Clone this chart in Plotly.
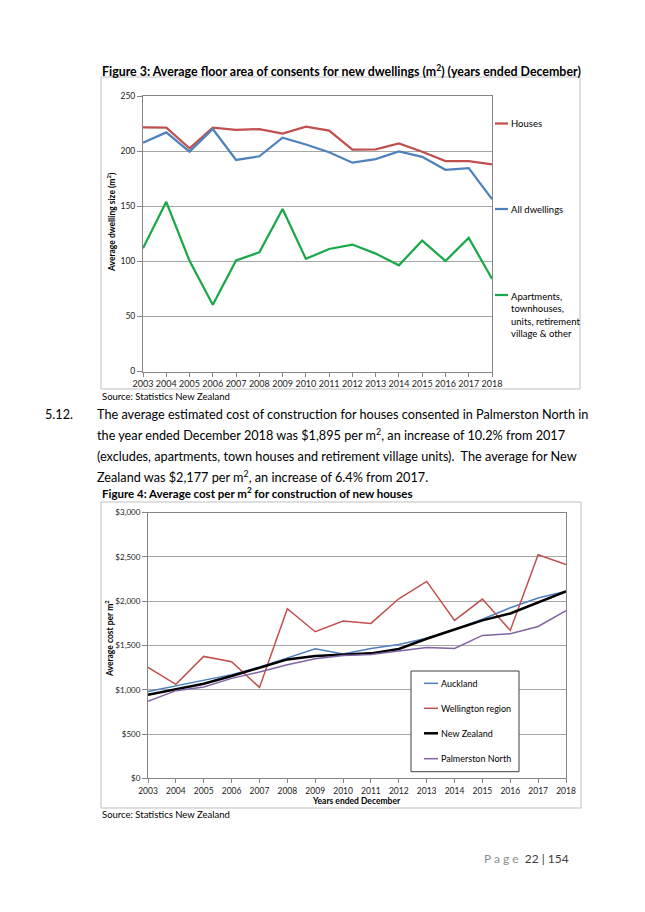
import plotly.graph_objects as go

# The page body has an 8px margin; the figure fills the rest of the 645x912 window.
PAGE_W, PAGE_H, OFF = 645, 912, 8
W, H = PAGE_W - 2 * OFF, PAGE_H - 2 * OFF
FONT = "Lato"

years = list(range(2003, 2019))

# Figure 3 data (m2)
houses = [221.6, 221.3, 202.5, 221.3, 219.2, 220.0, 215.8, 222.2, 218.6, 201.3, 201.5, 207.0, 199.4, 191.0, 191.0, 188.0]
all_dwellings = [207.7, 217.0, 199.5, 220.0, 192.0, 195.3, 212.2, 206.0, 199.0, 189.5, 192.7, 199.7, 194.8, 183.0, 184.5, 156.4]
apartments = [111.9, 154.0, 100.4, 60.5, 100.7, 108.2, 147.5, 102.2, 111.2, 115.2, 107.0, 96.4, 118.8, 100.3, 121.2, 84.2]
fig3_names = ["Houses", "All dwellings", "Apartments,<br>townhouses,<br>units, retirement<br>village & other"]
fig3_colors = ["#C0504D", "#4F81BD", "#1BA84A"]
fig3_yticks = [0, 50, 100, 150, 200, 250]

# Figure 4 data ($ per m2)
auckland = [980, 1045, 1105, 1170, 1255, 1360, 1462, 1402, 1465, 1510, 1580, 1680, 1795, 1925, 2034, 2110]
wellington = [1252, 1060, 1376, 1316, 1026, 1914, 1654, 1774, 1748, 2026, 2222, 1782, 2023, 1669, 2523, 2414]
new_zealand = [944, 1010, 1068, 1154, 1248, 1342, 1380, 1391, 1410, 1460, 1575, 1680, 1782, 1860, 1981, 2109]
palmerston = [868, 989, 1030, 1128, 1199, 1282, 1350, 1387, 1398, 1436, 1477, 1466, 1613, 1632, 1714, 1891]
fig4_names = ["Auckland", "Wellington region", "New Zealand", "Palmerston North"]
fig4_colors = ["#4F81BD", "#C0504D", "#000000", "#8064A2"]
fig4_widths = [1.5, 1.5, 2.5, 1.5]
fig4_yticks = [0, 500, 1000, 1500, 2000, 2500, 3000]
fig4_yticktext = ["$" + format(v, ",") for v in fig4_yticks]


def px(x):
    return (x - OFF) / W


def py(y):
    return 1 - (y - OFF) / H


fig = go.Figure()

for vals, name, col in zip([houses, all_dwellings, apartments], fig3_names, fig3_colors):
    fig.add_trace(go.Scatter(x=years, y=vals, mode="lines", name=name,
                             line=dict(color=col, width=2.25),
                             xaxis="x", yaxis="y", showlegend=False))

for vals, name, col, w in zip([auckland, wellington, new_zealand, palmerston],
                              fig4_names, fig4_colors, fig4_widths):
    fig.add_trace(go.Scatter(x=years, y=vals, mode="lines", name=name,
                             line=dict(color=col, width=w),
                             xaxis="x2", yaxis="y2", showlegend=False))


def axis(**kw):
    base = dict(showline=True, linecolor="#868686", linewidth=1, mirror=True,
                ticks="outside", tickcolor="#868686", automargin=False, zeroline=False)
    base.update(kw)
    return base


fig.update_layout(
    width=W, height=H, autosize=False,
    margin=dict(l=0, r=0, t=0, b=0),
    paper_bgcolor="white", plot_bgcolor="white",
    font=dict(family=FONT, color="#000"),
    xaxis=axis(domain=[px(143), px(492)], anchor="y", range=[2003, 2018],
               tickmode="array", tickvals=years, ticklen=4, showgrid=False,
               tickfont=dict(family=FONT, size=9, color="#222")),
    yaxis=axis(domain=[py(371.5), py(96)], anchor="x", range=[0, 250],
               tickmode="array", tickvals=fig3_yticks, ticklen=5,
               showgrid=True, gridcolor="#A6A6A6", gridwidth=1,
               tickfont=dict(family=FONT, size=8.5, color="#222")),
    xaxis2=axis(domain=[px(148), px(566)], anchor="y2", range=[2003, 2018],
                tickmode="array", tickvals=years, ticklen=4, showgrid=False,
                tickfont=dict(family=FONT, size=8.5, color="#222")),
    yaxis2=axis(domain=[py(778.3), py(512.5)], anchor="x2", range=[0, 3000],
                tickmode="array", tickvals=fig4_yticks, ticktext=fig4_yticktext, ticklen=5,
                showgrid=True, gridcolor="#A6A6A6", gridwidth=1,
                tickfont=dict(family=FONT, size=8, color="#222")),
)

shapes = []
# outer chart boxes
shapes.append(dict(type="rect", xref="paper", yref="paper", x0=px(101), x1=px(580),
                   y0=py(389), y1=py(77), line=dict(color="#BFBFBF", width=1), layer="below"))
shapes.append(dict(type="rect", xref="paper", yref="paper", x0=px(101), x1=px(581),
                   y0=py(808), y1=py(502), line=dict(color="#BFBFBF", width=1), layer="below"))

ann = []


def text(x, y, s, size, bold=False, xanchor="left", yanchor="middle", color="#000", angle=0, align="left"):
    ann.append(dict(x=px(x), y=py(y), xref="paper", yref="paper", text=(f"<b>{s}</b>" if bold else s),
                    showarrow=False, xanchor=xanchor, yanchor=yanchor, textangle=angle, align=align,
                    font=dict(family=FONT, size=size, color=color)))


# Figure 3 legend
leg3_y = [123.5, 209, 289]
for name, col, y in zip(fig3_names, fig3_colors, leg3_y):
    multi = "<br>" in name
    ly = y + 6 if multi else y
    shapes.append(dict(type="line", xref="paper", yref="paper", x0=px(495), x1=px(508),
                       y0=py(ly), y1=py(ly), line=dict(color=col, width=2.25), layer="above"))
    text(509, y, name, 9.5, yanchor="top" if multi else "middle")

# Figure 4 legend box
shapes.append(dict(type="rect", xref="paper", yref="paper", x0=px(411), x1=px(519),
                   y0=py(771.7), y1=py(671), line=dict(color="#404040", width=1),
                   fillcolor="white", layer="above"))
leg4_y = [683.3, 708.3, 733.3, 758.7]
for name, col, w, y in zip(fig4_names, fig4_colors, fig4_widths, leg4_y):
    shapes.append(dict(type="line", xref="paper", yref="paper", x0=px(424), x1=px(438),
                       y0=py(y), y1=py(y), line=dict(color=col, width=w), layer="above"))
    text(439, y, name, 9)

# Titles and texts
text(100, 70, "Figure 3: Average floor area of consents for new dwellings (m<sup>2</sup>) (years ended December)", 12.4, bold=True)
text(111, 222, "Average dwelling size (m<sup>2</sup>)", 8.5, bold=True, xanchor="center", angle=-90)
text(100, 396, "Source: Statistics New Zealand", 9.5)

text(43, 414, "5.12.", 12.7)
para = [
    "The average estimated cost of construction for houses consented in Palmerston North in",
    "the year ended December 2018 was $1,895 per m<sup>2</sup>, an increase of 10.2% from 2017",
    "(excludes, apartments, town houses and retirement village units).  The average for New",
    "Zealand was $2,177 per m<sup>2</sup>, an increase of 6.4% from 2017.",
]
for i, line in enumerate(para):
    text(95, 414 + i * 20.8, line, 12.7)

text(100, 492, "Figure 4: Average cost per m<sup>2</sup> for construction of new houses", 11.5, bold=True)
text(109, 639, "Average cost per m<sup>2</sup>", 8.5, bold=True, xanchor="center", angle=-90)
text(357, 801, "Years ended December", 8.5, bold=True, xanchor="center")
text(100, 814, "Source: Statistics New Zealand", 9.5)

text(482, 858, "<span style='color:#8C8C8C'>P a g e</span>  22 | 154", 12, color="#404040")

fig.update_layout(shapes=shapes, annotations=ann)
fig.write_html("out.html")
